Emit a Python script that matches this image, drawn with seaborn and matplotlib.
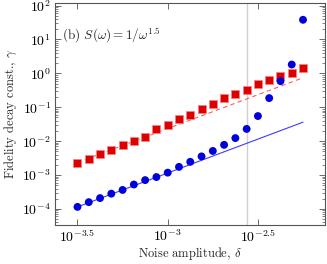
import numpy as np
import pandas as pd
import seaborn as sns
import matplotlib.pyplot as plt
from matplotlib.ticker import FixedLocator, NullLocator, LogLocator

# log10 of noise amplitude, one point per 1/16 decade
log_delta = [-3.5 + k / 16 for k in range(21)]

# log10 of fidelity decay constant
log_gamma_sq = [-2.65, -2.52, -2.39, -2.26, -2.12, -2.00, -1.89, -1.65, -1.51, -1.36,
                -1.24, -1.06, -0.91, -0.74, -0.62, -0.48, -0.31, -0.20, -0.09, 0.02, 0.16]
log_gamma_circ = [-3.94, -3.80, -3.68, -3.55, -3.44, -3.28, -3.15, -3.06, -2.93, -2.76,
                  -2.61, -2.45, -2.29, -2.11, -1.91, -1.64, -1.26, -0.73, -0.23, 0.26, 1.58]

# quadratic fit lines, gamma = A * delta^2 (log10 A)
logA_sq = 4.37
logA_circ = 3.06
vline_log = -2.5625

xtick_logs = [-3.5, -3.0, -2.5]
xtick_labels = [r"$10^{-3.5}$", r"$10^{-3}$", r"$10^{-2.5}$"]

sns.set_style("ticks")
plt.rcParams["font.family"] = "serif"
plt.rcParams["font.serif"] = ["cmr10", "DejaVu Serif"]
plt.rcParams["mathtext.fontset"] = "cm"
plt.rcParams["axes.formatter.use_mathtext"] = True

delta = 10 ** np.array(log_delta)
df = pd.DataFrame({
    "delta": delta,
    "sq": 10 ** np.array(log_gamma_sq),
    "circ": 10 ** np.array(log_gamma_circ),
    "fit_sq": 10 ** (logA_sq + 2 * np.array(log_delta)),
    "fit_circ": 10 ** (logA_circ + 2 * np.array(log_delta)),
})

fig = plt.figure(figsize=(3.27, 2.64), dpi=100)
ax = fig.add_axes([0.168, 0.147, 0.826, 0.843])

ax.axvline(10 ** vline_log, color="#d0d0d0", lw=1.0, zorder=0)
sns.lineplot(data=df, x="delta", y="fit_sq", ax=ax, color="#ff5a5a", lw=0.8,
             linestyle=(0, (4, 3)), zorder=2)
sns.lineplot(data=df, x="delta", y="fit_circ", ax=ax, color="#3c3cff", lw=0.8, zorder=2)
sns.scatterplot(data=df, x="delta", y="sq", ax=ax, marker="s", s=28, color="#dd0000",
                edgecolor="#ff8080", linewidth=0.5, zorder=3)
sns.scatterplot(data=df, x="delta", y="circ", ax=ax, marker="o", s=32, color="#0000dd",
                edgecolor="none", zorder=3)

ax.set_xscale("log")
ax.set_yscale("log")
ax.set_xlim(10 ** -3.625, 10 ** -2.128)
ax.set_ylim(10 ** -4.48, 10 ** 2.086)

ax.xaxis.set_major_locator(FixedLocator([10 ** v for v in xtick_logs]))
ax.set_xticklabels(xtick_labels)
ax.xaxis.set_minor_locator(NullLocator())
ax.yaxis.set_major_locator(LogLocator(base=10, numticks=10))
ax.yaxis.set_minor_locator(LogLocator(base=10, subs=np.arange(2, 10), numticks=10))
ax.xaxis.get_offset_text().set_visible(False)
ax.yaxis.get_offset_text().set_visible(False)

ax.tick_params(which="both", direction="in", top=True, right=True,
               colors="#555555", labelcolor="black", labelsize=10)
ax.tick_params(which="major", length=4, width=0.6)
ax.tick_params(axis="x", which="major", pad=2.5)
ax.tick_params(axis="y", which="major", pad=3)
ax.tick_params(which="minor", length=2, width=0.5)
for sp in ax.spines.values():
    sp.set_color("#555555")
    sp.set_linewidth(0.8)

ax.set_xlabel(r"Noise amplitude, $\delta$", fontsize=9, labelpad=0)
ax.set_ylabel(r"Fidelity decay const., $\gamma$", fontsize=9, labelpad=2)
ax.text(0.026, 0.855, r"(b) $S(\omega) = 1/\omega^{1.5}$", transform=ax.transAxes,
        fontsize=9.5, ha="left", va="center")

fig.savefig("out.png", dpi=100)
